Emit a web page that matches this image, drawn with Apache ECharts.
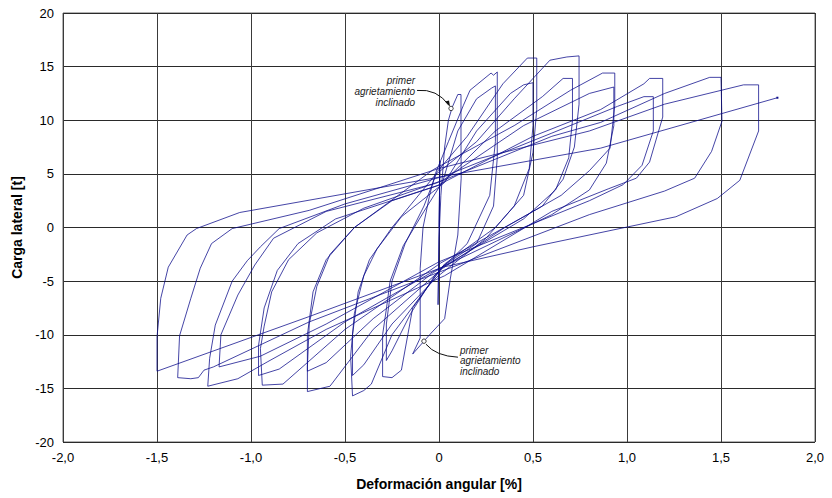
<!DOCTYPE html>
<html><head><meta charset="utf-8">
<script src="https://cdn.jsdelivr.net/npm/echarts@6/dist/echarts.min.js"></script>
<style>html,body{margin:0;padding:0;background:#fff}#c{width:832px;height:498px}</style>
</head><body><div id="c"></div>
<script>
// Deformación angular [%] (drift) and Carga lateral [t] (load), path order
const drift = [
 0,0.005,-0.005,0,
 0.01,0.03,0.05,0.07,0.10,0.117,
 0.117,0.118,0.10,0.06,0.03,-0.05,-0.08,-0.14,
 -0.10,-0.10,-0.085,-0.05,-0.02,
 0.05,0.13,0.165,0.277,0.29,0.31,
 0.31,0.29,0.2,0.02,-0.14,-0.2,-0.25,-0.30,
 -0.30,-0.28,-0.26,-0.19,-0.08,0.02,
 0.1,0.2,0.28,0.30,
 0.30,0.27,0.15,-0.02,-0.15,-0.25,-0.28,
 -0.28,-0.25,-0.18,-0.08,-0.01,
 0.15,0.34,0.47,0.52,
 0.52,0.50,0.45,0.3,0.03,-0.25,-0.36,-0.40,-0.46,
 -0.47,-0.45,-0.40,-0.33,-0.2,0.03,
 0.2,0.38,0.45,0.50,
 0.50,0.48,0.40,0.25,-0.01,-0.25,-0.40,-0.46,
 -0.46,-0.43,-0.37,-0.25,-0.02,
 0.2,0.40,0.59,0.68,0.745,
 0.745,0.72,0.66,0.55,0.35,0.02,-0.35,-0.58,-0.70,
 -0.70,-0.69,-0.65,-0.58,-0.45,-0.25,0.01,
 0.3,0.55,0.66,0.71,
 0.71,0.69,0.62,0.45,-0.03,-0.35,-0.6,-0.70,
 -0.70,-0.67,-0.6,-0.45,-0.03,
 0.4,0.7,0.87,0.935,
 0.935,0.91,0.80,0.65,0.45,0.01,-0.5,-0.83,-0.94,
 -0.95,-0.93,-0.89,-0.8,-0.65,-0.4,0.02,
 0.45,0.8,0.93,
 0.93,0.89,0.8,0.6,-0.02,-0.5,-0.85,-0.96,
 -0.96,-0.93,-0.86,-0.75,-0.55,-0.01,
 0.5,0.86,1.09,1.12,1.19,
 1.19,1.12,1.05,0.9,0.6,0.03,-0.6,-0.91,-1.07,-1.23,
 -1.22,-1.19,-1.10,-1.02,-0.95,-0.85,-0.5,0.03,
 0.6,0.95,1.09,1.14,
 1.14,1.08,0.98,0.8,0.0,-0.6,-0.95,-1.17,
 -1.16,-1.07,-0.98,-0.88,-0.6,-0.02,
 0.6,0.86,1.2,1.44,1.50,
 1.505,1.45,1.36,1.2,0.8,-0.02,-0.69,-1.2,-1.25,-1.28,-1.32,-1.39,
 -1.38,-1.32,-1.27,-1.21,-1.10,-0.69,0.0,
 0.8,1.2,1.62,1.70,
 1.70,1.6,1.48,1.26,0.5,0.02,-0.69,-1.5,
 -1.50,-1.48,-1.44,-1.34,-1.29,-1.06,-0.03,
 0.86,1.80
];
const load = [
 0,6.2,-7.2,-1,
 3,7.5,10.0,11.2,12.4,12.4,
 8,4.6,-0.7,-4.8,-8.5,-10.0,-10.6,-11.8,
 -10.3,-3.8,0,3,5.0,
 8,11.4,12.8,14.4,14.2,14.5,
 6.5,2,-1.5,-3.6,-7.5,-13.3,-14.0,-13.9,
 -10,-7.6,-5,-1.7,1.5,4.3,
 9,12,13.0,13.2,
 8,3,-1.5,-4.4,-8,-11.5,-12.4,
 -9,-5,-1.5,2,5.2,
 8.5,13.4,15.8,15.8,
 11,7,3,0,-3.4,-10,-14.6,-15.2,-15.7,
 -12,-8,-4.5,-2,1,4.2,
 9,12.5,13.3,13.5,
 9.5,5.5,2,-1,-4.6,-9,-12.8,-13.8,
 -10,-6,-3,0,4.9,
 8,12,15.6,15.9,16.0,
 11.5,7.5,4.5,2,0,-3.8,-9.5,-14.8,-15.3,
 -13,-9,-5.5,-2.5,0,2.5,4.0,
 9,12.2,13.9,13.9,
 10,6.5,3.5,0.8,-4.2,-8.5,-12.6,-13.4,
 -10,-6,-3,0,5.4,
 9.5,12.8,14.4,14.4,
 11.4,7.4,5.3,3,1,-3.3,-9.5,-14.6,-14.7,
 -11.3,-9.2,-6,-3,-0.5,1.8,4.4,
 9.5,12.5,13.1,
 9.5,6,3.5,1.2,-4.0,-8.8,-13.2,-13.8,
 -11,-7.5,-4,-1.5,0.8,3.9,
 8.5,11,13.4,13.9,13.9,
 10.3,6.1,4.6,3.6,1.5,-4.5,-9.5,-12.5,-14.1,-14.8,
 -12.2,-9.1,-5,-3.1,-1.8,-0.1,2.2,4.8,
 8.8,11.3,12.2,12.2,
 9.0,5.8,4.0,2.5,-3.2,-9,-12,-13.0,
 -10,-6.3,-3.5,-1,1.5,4.1,
 8.5,9.8,12.5,14.0,14.0,
 9.9,7.1,4.6,3.4,1.2,-4.3,-8.8,-13,-13.3,-14.0,-14.1,-14.0,
 -10.1,-6.6,-3.8,-1.5,-0.1,1.6,5.5,
 9.0,11.5,13.3,13.3,
 9.0,4.4,2.7,1.0,-1.8,-3.7,-8.3,-13.4,
 -10.2,-6.6,-3.7,-0.7,-0.1,1.4,4.6,
 7.4,12.1
];
const xTicks = ['-2,0','-1,5','-1,0','-0,5','0','0,5','1,0','1,5','2,0'];
const yTicks = ['-20','-15','-10','-5','0','5','10','15','20'];
const crackPos = [0.064, 11.1];
const crackNeg = [-0.08, -10.6];
const noteLines = ['primer', 'agrietamiento', 'inclinado'];

const chart = echarts.init(document.getElementById('c'), null, {renderer: 'svg'});
const pts = drift.map((x, i) => [x, load[i]]);
const font = '"Liberation Sans", Arial, sans-serif';
chart.setOption({
  animation: false,
  grid: {left: 63, right: 17, top: 13, bottom: 56, show: true, borderColor: '#666', borderWidth: 1},
  xAxis: {
    type: 'value', min: -2, max: 2, interval: 0.5,
    name: 'Deformación angular [%]', nameLocation: 'middle', nameGap: 35,
    nameTextStyle: {fontFamily: font, fontWeight: 'bold', fontSize: 14, color: '#000'},
    axisLine: {show: false}, axisTick: {show: false},
    axisLabel: {fontFamily: font, fontSize: 13, color: '#000', margin: 9,
      formatter: v => xTicks[Math.round((v + 2) / 0.5)]},
    splitLine: {show: true, lineStyle: {color: '#3a3a3a', width: 1}}
  },
  yAxis: {
    type: 'value', min: -20, max: 20, interval: 5,
    name: 'Carga lateral [t]', nameLocation: 'middle', nameGap: 38, nameRotate: 90,
    nameTextStyle: {fontFamily: font, fontWeight: 'bold', fontSize: 14, color: '#000'},
    axisLine: {show: false}, axisTick: {show: false},
    axisLabel: {fontFamily: font, fontSize: 13, color: '#000', margin: 9,
      formatter: v => yTicks[Math.round((v + 20) / 5)]},
    splitLine: {show: true, lineStyle: {color: '#2a2a2a', width: 1}}
  },
  series: [{
    type: 'line', data: pts, showSymbol: false, symbol: 'none', smooth: false,
    lineStyle: {color: '#0a0a8a', width: 0.9, opacity: 0.85}, z: 3
  }]
});

const pP = chart.convertToPixel({gridIndex: 0}, crackPos);
const pN = chart.convertToPixel({gridIndex: 0}, crackNeg);
const tStyle = {fontFamily: font, fontStyle: 'italic', fontSize: 10, fill: '#222'};
const g = [];
noteLines.forEach((t, i) => g.push({type: 'text', z: 10, style: Object.assign({text: t, x: pP[0] - 36, y: pP[1] - 28 + i * 11, align: 'right', verticalAlign: 'middle'}, tStyle)}));
g.push({type: 'bezierCurve', z: 10, shape: {x1: pP[0] - 34, y1: pP[1] - 18, cpx1: pP[0] - 14, cpy1: pP[1] - 20, x2: pP[0] - 2, y2: pP[1] - 3}, style: {stroke: '#111', lineWidth: 1, fill: null}});
g.push({type: 'polygon', z: 10, shape: {points: [[pP[0] - 1, pP[1] - 2], [pP[0] - 6, pP[1] - 7], [pP[0] - 2, pP[1] - 8]]}, style: {fill: '#111'}});
g.push({type: 'circle', z: 11, shape: {cx: pP[0], cy: pP[1], r: 2.2}, style: {fill: '#fff', stroke: '#111', lineWidth: 0.8}});
noteLines.forEach((t, i) => g.push({type: 'text', z: 10, style: Object.assign({text: t, x: pN[0] + 36, y: pN[1] + 9 + i * 10.5, align: 'left', verticalAlign: 'middle'}, tStyle)}));
g.push({type: 'bezierCurve', z: 10, shape: {x1: pN[0] + 2, y1: pN[1] + 3, cpx1: pN[0] + 12, cpy1: pN[1] + 15, x2: pN[0] + 34, y2: pN[1] + 16}, style: {stroke: '#111', lineWidth: 1, fill: null}});
g.push({type: 'circle', z: 11, shape: {cx: pN[0], cy: pN[1], r: 2.2}, style: {fill: '#fff', stroke: '#111', lineWidth: 0.8}});
const last = chart.convertToPixel({gridIndex: 0}, [drift[drift.length - 1], load[load.length - 1]]);
g.push({type: 'rect', z: 10, shape: {x: last[0] - 1, y: last[1] - 1, width: 2, height: 2}, style: {fill: '#0a0a8a'}});
chart.setOption({graphic: g});
</script>
</body></html>
